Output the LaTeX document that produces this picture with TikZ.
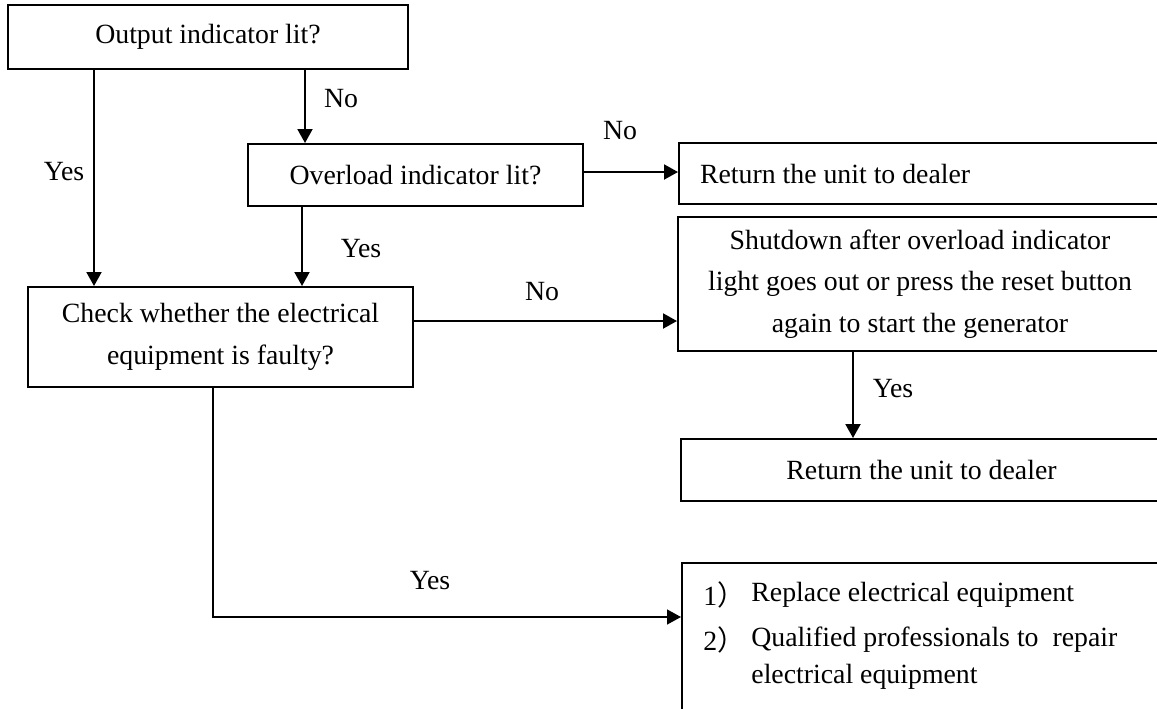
\documentclass[tikz,border=0pt]{standalone}
\usepackage{fontspec}
\setmainfont{Liberation Serif}
\newfontfamily\cjk{Noto Sans CJK SC}
\usetikzlibrary{positioning,arrows.meta}
\tikzset{
  box/.style={draw=black, line width=1pt, align=center, inner sep=0pt, font=\fontsize{13.9pt}{20.75pt}\selectfont},
  arr/.style={-{Triangle[length=7pt,width=7.5pt]}, line width=1pt, draw=black},
  lbl/.style={inner sep=0pt, font=\fontsize{13.9pt}{20.75pt}\selectfont},
}

\begin{document}
\begin{tikzpicture}[x=0.5pt,y=-0.5pt]
  \useasboundingbox (0,0) rectangle (1157,708);
  \clip (0,0) rectangle (1157,708);
  % decision boxes
  \node[box, minimum width=200pt, minimum height=32pt] (out) at (208,37) {Output indicator lit?};
  \node[box, minimum width=167.5pt, minimum height=31pt] (ovl) at (415.5,175) {Overload indicator lit?};
  \node[box, minimum width=192.5pt, minimum height=50pt] (chk) at (220.5,337) {Check whether the electrical\\equipment is faulty?};
  % result boxes, cut by the right edge
  \node[box, align=flush left, text width=224.5pt, inner xsep=10.5pt, minimum height=30.5pt] (ret1) at (924.5,173.5) {Return the unit to dealer};
  \node[box, minimum width=242pt, minimum height=67pt] (shut) at (920,284) {Shutdown after overload indicator\\light goes out or press the reset button\\again to start the generator};
  \node[box, minimum width=240.5pt, minimum height=31pt] (ret2) at (921.5,470) {Return the unit to dealer};
  \node[box, anchor=north west, minimum width=250pt, minimum height=90pt] (fix) at (681,562) {};
  \node[lbl, anchor=west] (fix1n) at (703,595) {1\cjk{）}};
  \node[lbl, anchor=west] (fix1) at (751,595) {Replace electrical equipment};
  \node[lbl, anchor=west] (fix2n) at (703,640) {2\cjk{）}};
  \node[lbl, anchor=west] (fix2) at (751,640) {Qualified professionals to~ repair};
  \node[lbl, anchor=west] (fix3) at (751,677) {electrical equipment};
  % columns and rows of the connectors
  \coordinate (colA) at (94,0);
  \coordinate (colB) at (305,0);
  \coordinate (colC) at (302,0);
  \coordinate (colD) at (213,0);
  \coordinate (colE) at (853,0);
  \coordinate (rowB) at (0,172);
  \coordinate (rowC) at (0,321);
  \coordinate (rowD) at (0,617);
  \draw[arr] (out.south -| colA) -- (chk.north -| colA);
  \draw[arr] (out.south -| colB) -- (ovl.north -| colB);
  \draw[arr] (ovl.south -| colC) -- (chk.north -| colC);
  \draw[arr] (ovl.east |- rowB) -- (ret1.west |- rowB);
  \draw[arr] (chk.east |- rowC) -- (shut.west |- rowC);
  \draw[arr] (shut.south -| colE) -- (ret2.north -| colE);
  \draw[arr, line width=0.7pt] (chk.south -| colD) |- (fix.west |- rowD);
  % labels
  \node[lbl] (l1) at (341,99) {No};
  \node[lbl] (l2) at (64,172) {Yes};
  \node[lbl] (l3) at (620,131) {No};
  \node[lbl] (l4) at (361,249) {Yes};
  \node[lbl] (l5) at (542,292) {No};
  \node[lbl] (l6) at (893,389) {Yes};
  \node[lbl] (l7) at (430,581) {Yes};
\end{tikzpicture}
\end{document}
